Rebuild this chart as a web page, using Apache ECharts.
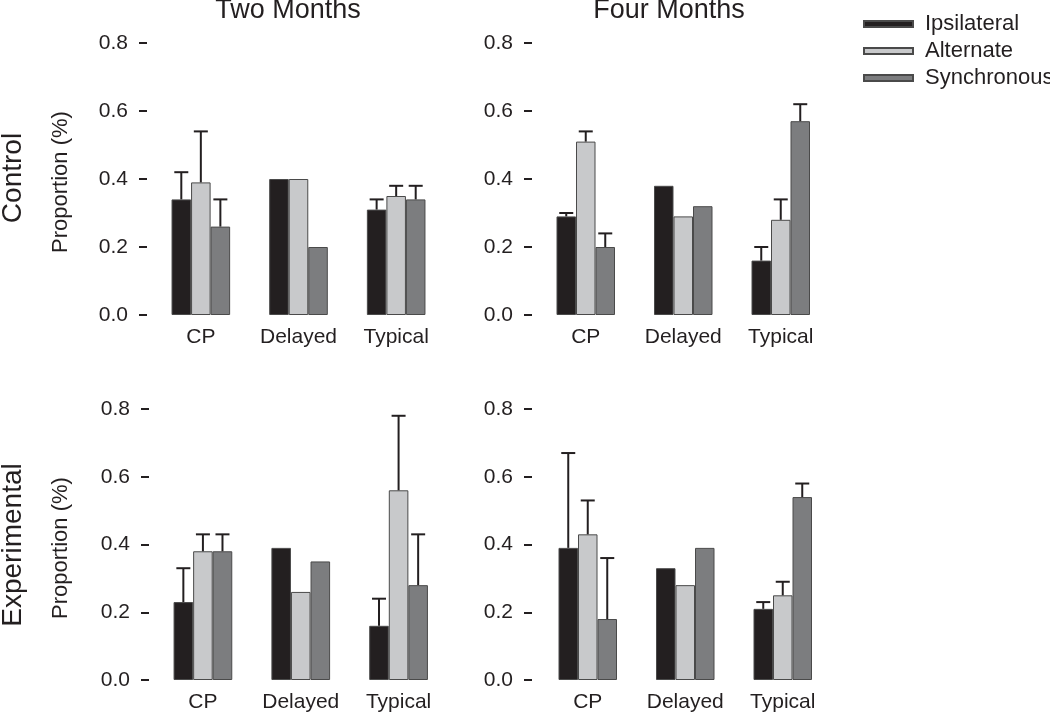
<!DOCTYPE html>
<html>
<head>
<meta charset="utf-8">
<script src="https://cdn.jsdelivr.net/npm/echarts@6/dist/echarts.min.js"></script>
<style>html,body{margin:0;padding:0;background:#fff}#chart{width:1050px;height:720px}</style>
</head>
<body>
<div id="chart"></div>
<script>
// ---- data ----
const categories = ['CP', 'Delayed', 'Typical'];
const seriesNames = ['Ipsilateral', 'Alternate', 'Synchronous'];
const colTitles = ['Two Months', 'Four Months'];
const rowTitles = ['Control', 'Experimental'];
const yTicks = [0, 0.2, 0.4, 0.6, 0.8];

// Control, Two Months
const ctrl2Ipsi = [0.34, 0.40, 0.31];
const ctrl2Alt  = [0.39, 0.40, 0.35];
const ctrl2Sync = [0.26, 0.20, 0.34];
const ctrl2IpsiErr = [0.42, null, 0.34];
const ctrl2AltErr  = [0.54, null, 0.38];
const ctrl2SyncErr = [0.34, null, 0.38];
// Control, Four Months
const ctrl4Ipsi = [0.29, 0.38, 0.16];
const ctrl4Alt  = [0.51, 0.29, 0.28];
const ctrl4Sync = [0.20, 0.32, 0.57];
const ctrl4IpsiErr = [0.30, null, 0.20];
const ctrl4AltErr  = [0.54, null, 0.34];
const ctrl4SyncErr = [0.24, null, 0.62];
// Experimental, Two Months
const exp2Ipsi = [0.23, 0.39, 0.16];
const exp2Alt  = [0.38, 0.26, 0.56];
const exp2Sync = [0.38, 0.35, 0.28];
const exp2IpsiErr = [0.33, null, 0.24];
const exp2AltErr  = [0.43, null, 0.78];
const exp2SyncErr = [0.43, null, 0.43];
// Experimental, Four Months
const exp4Ipsi = [0.39, 0.33, 0.21];
const exp4Alt  = [0.43, 0.28, 0.25];
const exp4Sync = [0.18, 0.39, 0.54];
const exp4IpsiErr = [0.67, null, 0.23];
const exp4AltErr  = [0.53, null, 0.29];
const exp4SyncErr = [0.36, null, 0.58];

// ---- styling / layout ----
const FONT = 'Liberation Sans, Arial, sans-serif';
const INK = '#231f20';
const colors = ['#231f20', '#c8c9cb', '#7c7d7f'];
const panels = [
  { vals: [ctrl2Ipsi, ctrl2Alt, ctrl2Sync], errs: [ctrl2IpsiErr, ctrl2AltErr, ctrl2SyncErr], grid: { left: 152, top: 43, width: 293, height: 272 }, off: 5 },
  { vals: [ctrl4Ipsi, ctrl4Alt, ctrl4Sync], errs: [ctrl4IpsiErr, ctrl4AltErr, ctrl4SyncErr], grid: { left: 537, top: 43, width: 292.5, height: 272 }, off: 5 },
  { vals: [exp2Ipsi, exp2Alt, exp2Sync], errs: [exp2IpsiErr, exp2AltErr, exp2SyncErr], grid: { left: 154, top: 409, width: 293.5, height: 271 }, off: 5 },
  { vals: [exp4Ipsi, exp4Alt, exp4Sync], errs: [exp4IpsiErr, exp4AltErr, exp4SyncErr], grid: { left: 539, top: 409, width: 292.5, height: 271 }, off: 7 }
];
const GAP = 0.4;

const grids = [], xAxes = [], yAxes = [], series = [];
panels.forEach((p, pi) => {
  grids.push(Object.assign({ containLabel: false }, p.grid));
  xAxes.push({
    type: 'category', gridIndex: pi, data: categories,
    axisLine: { show: false }, axisTick: { show: false },
    axisLabel: { interval: 0, hideOverlap: false, margin: 12, fontSize: 21, fontFamily: FONT, color: INK }
  });
  yAxes.push({
    type: 'value', gridIndex: pi, min: yTicks[0], max: yTicks[yTicks.length - 1], interval: 0.2,
    offset: p.off,
    axisLine: { show: false },
    axisTick: { show: true, length: 8, lineStyle: { color: INK, width: 2 } },
    splitLine: { show: false },
    axisLabel: { margin: 19, fontSize: 21, fontFamily: FONT, color: INK, formatter: v => v.toFixed(1) }
  });
  p.vals.forEach((arr, si) => {
    series.push({
      type: 'bar', name: seriesNames[si], xAxisIndex: pi, yAxisIndex: pi,
      data: arr, barGap: '0%', barCategoryGap: (GAP * 100) + '%',
      itemStyle: { color: colors[si], borderColor: '#4a4a4a', borderWidth: 1 },
      emphasis: { disabled: true }, z: 2
    });
  });
  const errData = [];
  p.errs.forEach((arr, si) => {
    arr.forEach((e, ci) => {
      if (e != null) errData.push([ci, si, p.vals[si][ci], e]);
    });
  });
  series.push({
    type: 'custom', xAxisIndex: pi, yAxisIndex: pi, data: errData, z: 5,
    encode: { x: 0, y: [2, 3] }, silent: true,
    renderItem: (params, api) => {
      const c = api.value(0), k = api.value(1), v = api.value(2), e = api.value(3);
      const band = api.size([1, 0])[0];
      const bw = band * (1 - GAP) / 3;
      const p0 = api.coord([c, v]);
      const p1 = api.coord([c, e]);
      const x = p0[0] + (k - 1) * bw;
      const style = { stroke: INK, lineWidth: 2 };
      return {
        type: 'group', children: [
          { type: 'line', shape: { x1: x, y1: p0[1], x2: x, y2: p1[1] }, style },
          { type: 'line', shape: { x1: x - 7, y1: p1[1], x2: x + 7, y2: p1[1] }, style }
        ]
      };
    }
  });
});

const graphics = [
  { type: 'text', x: 288, y: 10.5, style: { text: colTitles[0], font: '27px ' + FONT, fill: INK, align: 'center', verticalAlign: 'middle' } },
  { type: 'text', x: 669, y: 10.5, style: { text: colTitles[1], font: '27px ' + FONT, fill: INK, align: 'center', verticalAlign: 'middle' } },
  { type: 'text', x: 13, y: 178, rotation: Math.PI / 2, style: { text: rowTitles[0], font: '28px ' + FONT, fill: INK, align: 'center', verticalAlign: 'middle' } },
  { type: 'text', x: 13, y: 545, rotation: Math.PI / 2, style: { text: rowTitles[1], font: '28px ' + FONT, fill: INK, align: 'center', verticalAlign: 'middle' } },
  { type: 'text', x: 61, y: 182, rotation: Math.PI / 2, style: { text: 'Proportion (%)', font: '22px ' + FONT, fill: INK, align: 'center', verticalAlign: 'middle' } },
  { type: 'text', x: 61, y: 548, rotation: Math.PI / 2, style: { text: 'Proportion (%)', font: '22px ' + FONT, fill: INK, align: 'center', verticalAlign: 'middle' } }
];

const chart = echarts.init(document.getElementById('chart'), null, { renderer: 'canvas' });
chart.setOption({
  animation: false,
  backgroundColor: '#fff',
  legend: {
    data: seriesNames, orient: 'vertical', left: 863, top: 13, padding: 0,
    itemWidth: 49, itemHeight: 6, itemGap: 5, icon: 'rect',
    textStyle: { fontSize: 22, lineHeight: 22, fontFamily: FONT, color: INK, padding: [0, 0, 0, 7] },
    selectedMode: false
  },
  grid: grids, xAxis: xAxes, yAxis: yAxes, series: series, graphic: graphics
});
</script>
</body>
</html>
